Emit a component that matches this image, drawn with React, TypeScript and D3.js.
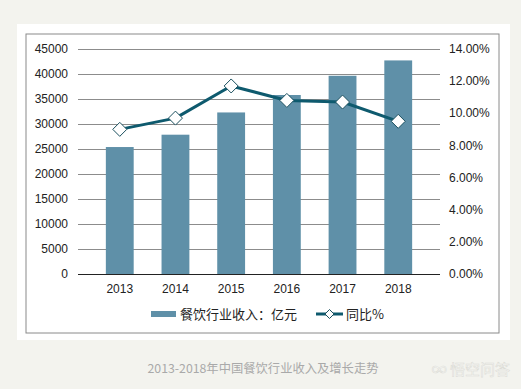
import * as d3 from "d3";

const years = ["2013", "2014", "2015", "2016", "2017", "2018"];
const revenue = [25392, 27860, 32310, 35799, 39644, 42716];
const growth = [9.0, 9.7, 11.7, 10.8, 10.7, 9.5];
const leftTicks = [0, 5000, 10000, 15000, 20000, 25000, 30000, 35000, 40000, 45000];
const rightTicks = [0, 2, 4, 6, 8, 10, 12, 14];

const W = 521;
const H = 389;
const PLOT = { left: 78, right: 440, top: 49, bottom: 274 };
const FONT = "'Liberation Sans', Arial, sans-serif";
const CJK = "'Noto Sans CJK SC', sans-serif";

export default function App() {
  const x = d3.scaleBand().domain(years).range([PLOT.left, PLOT.right]).padding(0.5);
  const yL = d3.scaleLinear().domain([0, 45000]).range([PLOT.bottom, PLOT.top]);
  const yR = d3.scaleLinear().domain([0, 14]).range([PLOT.bottom, PLOT.top]);
  const cx = (y: string) => (x(y) ?? 0) + x.bandwidth() / 2;

  const line = d3
    .line<number>()
    .x((_, i) => cx(years[i]))
    .y((d) => yR(d));

  const diamond = (px: number, py: number, r: number) =>
    `M${px},${py - r}L${px + r},${py}L${px},${py + r}L${px - r},${py}Z`;

  return (
    <svg
      width={W}
      height={H}
      style={{ position: "absolute", left: 0, top: 0, display: "block" }}
    >
      <rect width={W} height={H} fill="#f3f3ee" />
      <rect x={17} y={24} width={493} height={316} fill="#ffffff" />
      <rect x={26} y={34} width={473} height={299} fill="none" stroke="#8a8a8a" strokeWidth={1} />

      {/* grid */}
      {leftTicks.map((t) => (
        <line
          key={t}
          x1={PLOT.left}
          x2={PLOT.right}
          y1={Math.round(yL(t)) + 0.5}
          y2={Math.round(yL(t)) + 0.5}
          stroke={t === 0 ? "#222" : "#8c8c8c"}
          strokeWidth={1}
        />
      ))}

      {/* bars */}
      {revenue.map((v, i) => (
        <rect
          key={years[i]}
          x={x(years[i])}
          y={yL(v)}
          width={x.bandwidth()}
          height={PLOT.bottom - yL(v)}
          fill="#5f90a8"
        />
      ))}
      <line x1={PLOT.left} x2={PLOT.right} y1={PLOT.bottom + 0.5} y2={PLOT.bottom + 0.5} stroke="#222" />

      {/* line */}
      <path d={line(growth) ?? ""} fill="none" stroke="#0e5a6e" strokeWidth={3} strokeLinejoin="round" />
      {growth.map((g, i) => (
        <path key={i} d={diamond(cx(years[i]), yR(g), 7)} fill="#fff" stroke="#1a4f5e" strokeWidth={1} />
      ))}

      {/* left axis labels */}
      {leftTicks.map((t) => (
        <text
          key={t}
          x={68}
          y={yL(t)}
          dy="0.35em"
          textAnchor="end"
          fontFamily={FONT}
          fontSize={12}
          fill="#222"
        >
          {t}
        </text>
      ))}
      {/* right axis labels */}
      {rightTicks.map((t) => (
        <text
          key={t}
          x={449}
          y={yR(t)}
          dy="0.35em"
          fontFamily={FONT}
          fontSize={12}
          fill="#222"
        >
          {t.toFixed(2) + "%"}
        </text>
      ))}
      {/* x labels */}
      {years.map((y) => (
        <text
          key={y}
          x={cx(y)}
          y={289}
          dy="0.35em"
          textAnchor="middle"
          fontFamily={FONT}
          fontSize={12}
          fill="#222"
        >
          {y}
        </text>
      ))}

      {/* legend */}
      <rect x={151} y={311} width={25} height={6} fill="#5f90a8" />
      <text x={180} y={314} dy="0.35em" fontFamily={CJK} fontSize={13} fill="#222">
        餐饮行业收入：亿元
      </text>
      <line x1={316} x2={343} y1={314} y2={314} stroke="#0e5a6e" strokeWidth={3} />
      <path d={diamond(329.5, 314, 4.5)} fill="#fff" stroke="#1a4f5e" strokeWidth={1} />
      <text x={346} y={314} dy="0.35em" fontFamily={CJK} fontSize={13} fill="#222">
        同比%
      </text>

      {/* caption */}
      <text x={263} y={369} dy="0.35em" textAnchor="middle" fontFamily={CJK} fontSize={12.3} fill="#a9a9a9">
        2013-2018年中国餐饮行业收入及增长走势
      </text>
      <text x={510} y={370} dy="0.35em" textAnchor="end" fontFamily={CJK} fontSize={15} fill="#ffffff" stroke="#dcdcd6" strokeWidth={0.6}>
        ∞ 悟空问答
      </text>
    </svg>
  );
}
